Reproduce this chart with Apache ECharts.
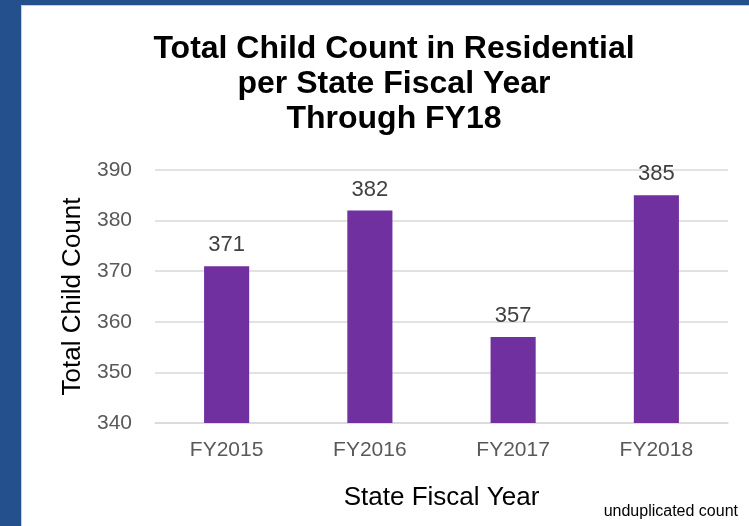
<!DOCTYPE html>
<html>
<head>
<meta charset="utf-8">
<script src="https://cdn.jsdelivr.net/npm/echarts@6/dist/echarts.min.js"></script>
<style>
html,body{margin:0;padding:0;background:#fff;}
#c{width:749px;height:526px;}
</style>
</head>
<body>
<div id="c"></div>
<script>
const categories = ["FY2015", "FY2016", "FY2017", "FY2018"];
const childCounts = [371, 382, 357, 385];
const yTicks = [340, 350, 360, 370, 380, 390];
const titleLines = ["Total Child Count in Residential", "per State Fiscal Year", "Through FY18"];
const yAxisTitle = "Total Child Count";
const xAxisTitle = "State Fiscal Year";
const footnote = "unduplicated count";

const FONT = "'Liberation Sans', Arial, sans-serif";
const chart = echarts.init(document.getElementById('c'), null, {renderer: 'canvas'});
chart.setOption({
  animation: false,
  backgroundColor: '#ffffff',
  title: {
    text: titleLines.join('\n'),
    left: 389,
    textAlign: 'center',
    top: 27,
    textStyle: {fontFamily: FONT, fontWeight: 'bold', fontSize: 32, lineHeight: 35, color: '#000000'}
  },
  grid: {left: 155, right: 21, top: 170, bottom: 103, containLabel: false},
  xAxis: {
    type: 'category',
    data: categories,
    name: xAxisTitle,
    nameLocation: 'middle',
    nameGap: 62,
    nameTextStyle: {fontFamily: FONT, fontSize: 26, color: '#000000'},
    axisLine: {show: true, lineStyle: {color: '#D9D9D9', width: 1.5}},
    axisTick: {show: false},
    axisLabel: {fontFamily: FONT, fontSize: 21, color: '#595959', margin: 17}
  },
  yAxis: {
    type: 'value',
    min: yTicks[0],
    max: yTicks[yTicks.length - 1],
    interval: 10,
    name: yAxisTitle,
    nameLocation: 'middle',
    nameGap: 69,
    nameRotate: 90,
    nameTextStyle: {fontFamily: FONT, fontSize: 26, color: '#000000'},
    axisLine: {show: false},
    axisTick: {show: false},
    axisLabel: {fontFamily: FONT, fontSize: 21, color: '#595959', margin: 23},
    splitLine: {lineStyle: {color: '#D9D9D9', width: 1.5}}
  },
  series: [{
    type: 'bar',
    data: childCounts,
    barWidth: '31.5%',
    itemStyle: {color: '#7030A0'},
    label: {show: true, position: 'top', distance: 10, fontFamily: FONT, fontSize: 22, color: '#404040'}
  }],
  graphic: [
    {type: 'rect', shape: {x: 0, y: 0, width: 21, height: 526}, style: {fill: '#25508E'}},
    {type: 'rect', shape: {x: 0, y: 0, width: 749, height: 5}, style: {fill: '#25508E'}},
    {type: 'rect', shape: {x: 21, y: 5, width: 1, height: 521}, style: {fill: '#C8CDD6'}},
    {type: 'rect', shape: {x: 21, y: 5, width: 728, height: 1}, style: {fill: '#C8CDD6'}},
    {type: 'text', x: 738, y: 512, style: {text: footnote, textAlign: 'right', textVerticalAlign: 'middle', fontFamily: FONT, fontSize: 16, fill: '#000000'}}
  ]
});
</script>
</body>
</html>
